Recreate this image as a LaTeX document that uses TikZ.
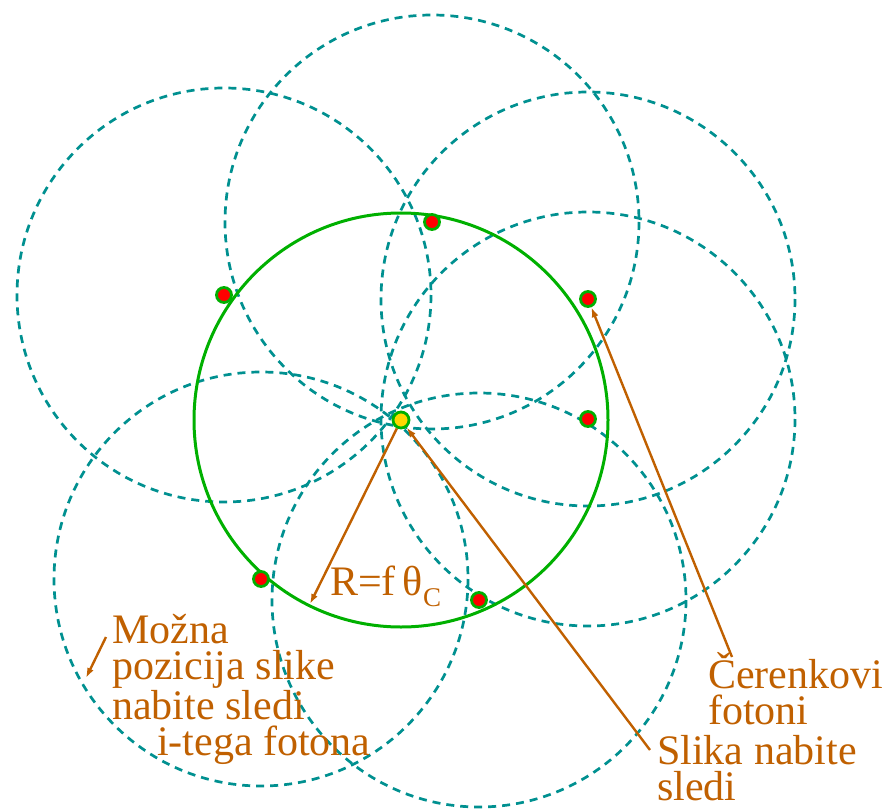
\documentclass[tikz,border=0pt]{standalone}
\usepackage{fontspec}
\setmainfont{Liberation Serif}
\usetikzlibrary{arrows.meta}
\definecolor{labc}{HTML}{C06000}
\definecolor{ringc}{HTML}{009090}
\definecolor{cerc}{HTML}{00B000}
\definecolor{dotc}{HTML}{FF0000}
\definecolor{trkc}{HTML}{FFD800}
\tikzset{
  imgring/.style={ringc,line width=2.7pt,dash pattern=on 8pt off 6pt},
  cerring/.style={cerc,line width=3pt},
  phot/.style={circle,fill=dotc,draw=cerc,line width=2.8pt,minimum size=15pt,inner sep=0pt},
  trk/.style={circle,fill=trkc,draw=cerc,line width=2.8pt,minimum size=16pt,inner sep=0pt},
  ar/.style={-{Latex[length=10pt,width=7pt]},labc,line width=2.4pt},
  lab/.style={labc,font=\fontsize{42}{36}\selectfont,align=left,inner sep=0pt,anchor=base west}
}
\begin{document}
\begin{tikzpicture}[x=1pt,y=-1pt]
\useasboundingbox (0,0) rectangle (893,810);
% track image and photon hits
\coordinate (O) at (401,420);
\coordinate (p1) at (432,222);
\coordinate (p2) at (224,295);
\coordinate (p3) at (588,299);
\coordinate (p4) at (588,419);
\coordinate (p5) at (261,579);
\coordinate (p6) at (479,600);
% possible track images of each photon
\foreach \p in {p1,p2,p3,p4,p5,p6}
  \draw[imgring] (\p) circle[radius=207];
% Cherenkov ring
\draw[cerring] (O) circle[radius=207];
\node[trk] (tr) at (O) {};
\foreach \p/\n in {p1/h1,p2/h2,p3/h3,p4/h4,p5/h5,p6/h6}
  \node[phot] (\n) at (\p) {};
% labels (base = last line)
\node[lab] (rlab) at (330,595) {R=f\,θ{\fontsize{27}{27}\selectfont\raisebox{-11pt}{C}}};
\node[lab] (mozna) at (112,755) {Možna\\pozicija slike\\nabite sledi\\\hspace*{45pt}i-tega fotona};
\node[lab] (cer) at (708,724) {Čerenkovi\\fotoni};
\node[lab] (slika) at (657,800) {Slika nabite\\sledi};
% arrows
\coordinate (rend) at (310,604);
\coordinate (ms) at (106,637);
\coordinate (me) at (86,678);
\coordinate (cs) at (732,657);
\coordinate (ss) at (650,750);
\draw[ar] (tr) -- (rend);
\draw[ar] (ms) -- (me);
\draw[ar] (cs) -- (h3);
\draw[ar] (ss) -- (tr);
\end{tikzpicture}
\end{document}
